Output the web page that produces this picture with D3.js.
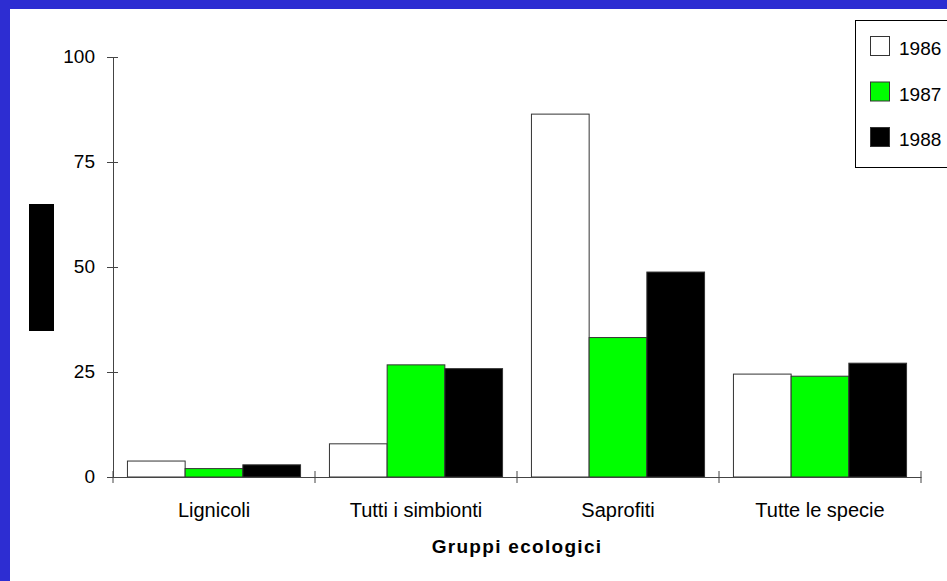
<!DOCTYPE html>
<html>
<head>
<meta charset="utf-8">
<script src="https://cdn.jsdelivr.net/npm/d3@7"></script>
<style>
  body { margin: 0; background: #2d2dd2; }
  svg { display: block; }
  text { font-family: "Liberation Sans", Arial, sans-serif; fill: #000; }
</style>
</head>
<body>
<div id="chart"></div>
<script>
const categories = ["Lignicoli", "Tutti i simbionti", "Saprofiti", "Tutte le specie"]
const years = ["1986", "1987", "1988"]
const values1986 = [3.8, 7.9, 86.4, 24.5]
const values1987 = [2.0, 26.7, 33.2, 24.0]
const values1988 = [2.9, 25.8, 48.8, 27.1]
const yTicks = [0, 25, 50, 75, 100]
const colors = ["#ffffff", "#00ff00", "#000000"]

const series = [values1986, values1987, values1988]
const W = 947, H = 581
const MARGIN = {left: 113, right: 921, top: 57, bottom: 477}

let svg = d3.select("#chart").append("svg").attr("width", W).attr("height", H)

svg.append("rect").attr("width", W).attr("height", H).attr("fill", "#2d2dd2")
svg.append("rect").attr("x", 10).attr("y", 9).attr("width", W - 10).attr("height", H - 9).attr("fill", "#fff")

let y = d3.scaleLinear().domain([0, 100]).range([MARGIN.bottom, MARGIN.top])
let x0 = d3.scaleBand().domain(categories).range([MARGIN.left, MARGIN.right])
  .paddingInner(0.143).paddingOuter(0.0715)
let x1 = d3.scaleBand().domain(years).range([0, x0.bandwidth()])

// bars
let groups = svg.append("g").selectAll("g").data(categories).join("g")
  .attr("transform", d => `translate(${x0(d)},0)`)
groups.selectAll("rect")
  .data((c, i) => years.map((yr, j) => ({yr, v: series[j][i], j})))
  .join("rect")
  .attr("x", d => x1(d.yr))
  .attr("y", d => y(d.v))
  .attr("width", x1.bandwidth())
  .attr("height", d => y(0) - y(d.v))
  .attr("fill", d => colors[d.j])
  .attr("stroke", "#333")
  .attr("stroke-width", 1)

// y axis
let yAxis = svg.append("g").attr("transform", `translate(${MARGIN.left},0)`)
  .call(d3.axisLeft(y).tickValues(yTicks).tickSize(6).tickSizeOuter(0).tickPadding(12))
yAxis.select(".domain").attr("stroke", "#444")
yAxis.selectAll(".tick line").attr("x1", 5).attr("stroke", "#444")
yAxis.selectAll("text").style("font-size", "19px").attr("dy", "0.3em")

// x axis
let xAxis = svg.append("g").attr("transform", `translate(0,${MARGIN.bottom})`)
  .call(d3.axisBottom(x0).tickSize(0).tickSizeOuter(0))
xAxis.select(".domain").attr("stroke", "#444")
xAxis.selectAll("text").style("font-size", "20px").attr("y", 40).attr("dy", 0)

let bounds = categories.map(c => x0(c) - x0.step() * x0.paddingInner() / 2)
bounds.push(MARGIN.right)
xAxis.selectAll(".bound").data(bounds).join("line")
  .attr("x1", d => d).attr("x2", d => d)
  .attr("y1", -6).attr("y2", 6)
  .attr("stroke", "#444")

// x title
svg.append("text")
  .text("Gruppi ecologici")
  .attr("x", (MARGIN.left + MARGIN.right) / 2).attr("y", 553)
  .attr("text-anchor", "middle")
  .style("font-size", "19px").style("font-weight", "bold").style("letter-spacing", "1.3px")

// y label block
svg.append("rect").attr("x", 29).attr("y", 204).attr("width", 25).attr("height", 127).attr("fill", "#000")

// legend
let legend = svg.append("g")
legend.append("rect").attr("x", 855.5).attr("y", 20.5).attr("width", 100).attr("height", 147)
  .attr("fill", "#fff").attr("stroke", "#000")
let items = legend.selectAll(".item").data(years).join("g")
  .attr("transform", (d, i) => `translate(870,${36 + i * 45.5})`)
items.append("rect").attr("x", 0.5).attr("y", 0.5).attr("width", 19).attr("height", 19)
  .attr("fill", (d, i) => colors[i]).attr("stroke", "#333")
items.append("text").text(d => d).attr("x", 29).attr("y", 19).style("font-size", "19px")
</script>
</body>
</html>
